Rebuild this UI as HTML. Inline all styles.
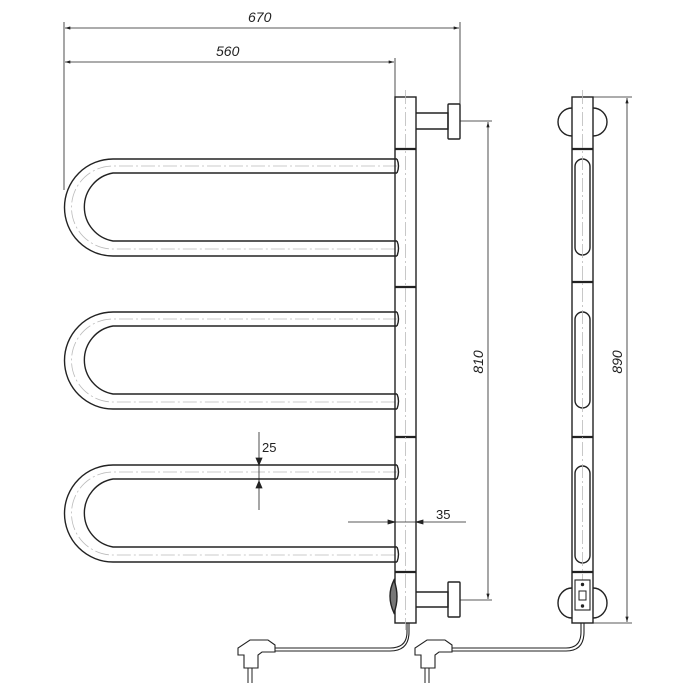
<!DOCTYPE html>
<html><head><meta charset="utf-8"><style>html,body{margin:0;padding:0;background:#fff}svg{display:block}</style></head>
<body>
<svg width="700" height="700" viewBox="0 0 700 700" xmlns="http://www.w3.org/2000/svg" font-family="Liberation Sans, sans-serif">
<defs>
<marker id="a" viewBox="0 0 10 6" refX="10" refY="3" markerWidth="8" markerHeight="4" orient="auto-start-reverse"><path d="M0,0L10,3L0,6z" fill="#222"/></marker>
</defs>
<g fill="none" stroke="#222" stroke-width="1.4">
<g id="loop">
<path d="M397,159 H113 A48.5,48.5 0 0 0 113,256 H397"/>
<path d="M397,173 H113 A34.5,34.5 0 0 0 113,241 H397"/>
<path d="M397,159 q3,7 0,14 M397,241 q3,7 0,15"/>
<path d="M397,166 H113 A41.5,41.5 0 0 0 113,249 H397" stroke="#bbb" stroke-width="0.8" stroke-dasharray="14 3 2 3"/>
</g>
<use href="#loop" y="153"/>
<use href="#loop" y="306"/>
<rect x="395" y="97" width="21" height="526"/>
<path d="M395,149H416M395,287H416M395,437H416M395,572H416" stroke-width="2.2"/>
<line x1="405.5" y1="90" x2="405.5" y2="630" stroke="#bbb" stroke-width="0.8" stroke-dasharray="14 3 2 3"/>
<path d="M416,113H448V129H416"/><rect x="448" y="104" width="12" height="35" rx="1"/>
<path d="M416,592H448V607H416"/><rect x="448" y="582" width="12" height="35" rx="1"/>
<path d="M394,580 q-8,16 0,33 q6,-16 0,-33z" fill="#777"/>
<path d="M407,623 V632 Q407,648 390,648 H275" stroke-width="1.1"/>
<path d="M409,623 V632 Q409,651 390,651 H275" stroke-width="1.1"/>
<path d="M275,645 L268,640 H250 L238,648 V655 H244 V668 H258 V655 L262,652 H275 Z" stroke-width="1.1"/>
<path d="M248,668V683M252,668V683" stroke-width="1"/>
<rect x="572" y="97" width="21" height="526"/>
<path d="M572,149H593M572,282H593M572,437H593M572,572H593" stroke-width="2.2"/>
<path d="M572,108 a14,14 0 0 0 0,28 M593,108 a14,14 0 0 1 0,28"/>
<path d="M572,588 a14,15 0 0 0 0,30 M593,588 a14,15 0 0 1 0,30"/>
<rect x="575" y="159" width="15" height="96" rx="7.5"/>
<rect x="575" y="312" width="15" height="96" rx="7.5"/>
<rect x="575" y="466" width="15" height="97" rx="7.5"/>
<line x1="582.5" y1="90" x2="582.5" y2="580" stroke="#bbb" stroke-width="0.8" stroke-dasharray="14 3 2 3"/>
<rect x="575" y="580" width="15" height="30" stroke-width="1.1"/>
<rect x="579" y="591" width="7" height="9" stroke-width="1"/>
<circle cx="582.5" cy="584.5" r="1" fill="#222"/><circle cx="582.5" cy="606" r="1" fill="#222"/>
<path d="M581,623 V632 Q581,648 566,648 H452" stroke-width="1.1"/>
<path d="M584,623 V632 Q584,651 566,651 H452" stroke-width="1.1"/>
<path d="M452,645 L445,640 H427 L415,648 V655 H421 V668 H435 V655 L439,652 H452 Z" stroke-width="1.1"/>
<path d="M425,668V683M429,668V683" stroke-width="1"/>
</g>
<g stroke="#222" stroke-width="0.8" fill="none">
<line x1="64" y1="22" x2="64" y2="190"/>
<line x1="460" y1="22" x2="460" y2="104"/>
<line x1="395" y1="58" x2="395" y2="97"/>
<line x1="65" y1="28" x2="459" y2="28" marker-start="url(#a)" marker-end="url(#a)"/>
<line x1="65" y1="62" x2="394" y2="62" marker-start="url(#a)" marker-end="url(#a)"/>
<line x1="460" y1="121" x2="492" y2="121"/>
<line x1="460" y1="600" x2="492" y2="600"/>
<line x1="488" y1="122" x2="488" y2="599" marker-start="url(#a)" marker-end="url(#a)"/>
<line x1="593" y1="97" x2="632" y2="97"/>
<line x1="593" y1="623" x2="632" y2="623"/>
<line x1="627" y1="98" x2="627" y2="622" marker-start="url(#a)" marker-end="url(#a)"/>
<line x1="259" y1="432" x2="259" y2="510"/>
<path d="M256,458 l3,7 l3,-7z M256,488 l3,-7 l3,7z" fill="#222"/>
<line x1="348" y1="522" x2="466" y2="522"/>
<path d="M388,520 l7,2 l-7,2z M423,520 l-7,2 l7,2z" fill="#222"/>
</g>
<g fill="#222" font-size="14" font-style="italic">
<text x="248" y="22">670</text>
<text x="216" y="56">560</text>
<text x="262" y="452" font-style="normal" font-size="13">25</text>
<text x="436" y="519" font-style="normal" font-size="13">35</text>
<text transform="translate(483,362) rotate(-90)" text-anchor="middle">810</text>
<text transform="translate(622,362) rotate(-90)" text-anchor="middle">890</text>
</g>
</svg>
</body></html>
